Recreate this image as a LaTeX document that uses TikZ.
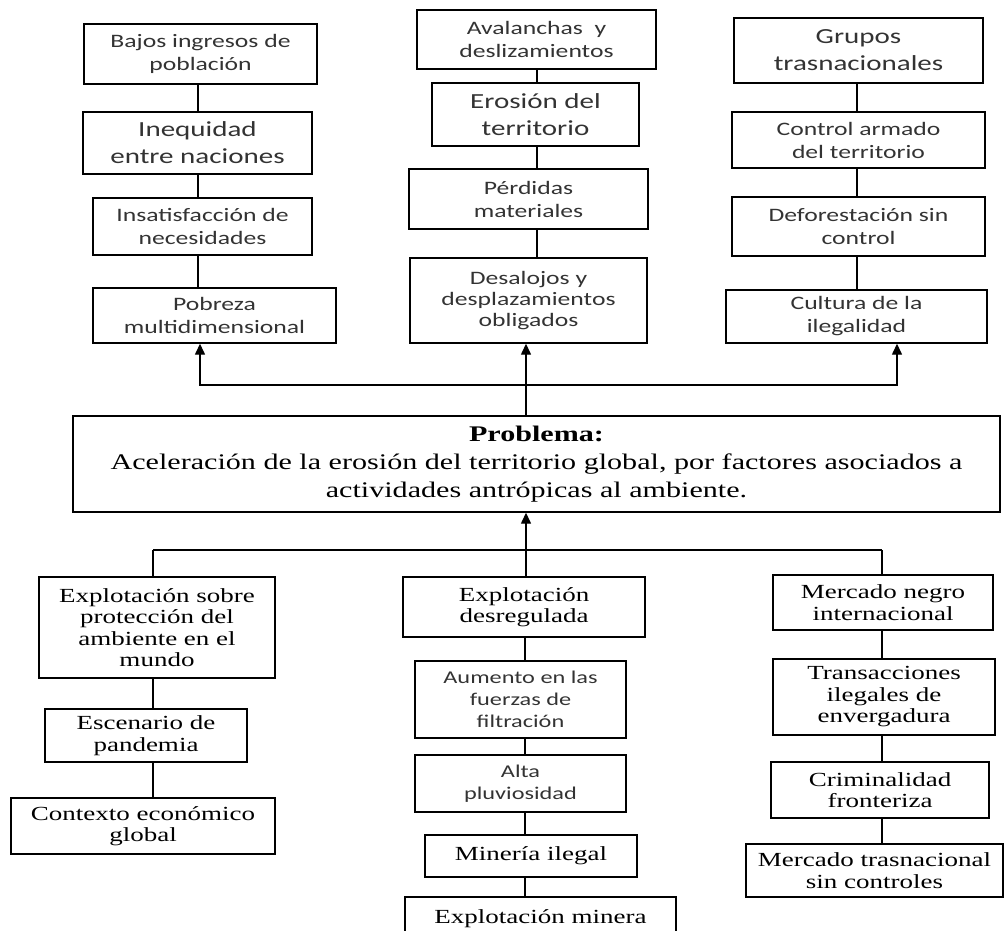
\documentclass[tikz,border=0pt]{standalone}
\usepackage{fontspec}
\setmainfont{Liberation Serif}
\newfontfamily\sansf[FakeStretch=1.35]{Carlito}
\newfontfamily\serf[FakeStretch=1.35]{Liberation Serif}
\usetikzlibrary{arrows.meta}
\newcommand\fsn{\sansf\fontsize{19}{23}\selectfont\color{black!80}}
\newcommand\fsb{\sansf\fontsize{21.5}{27}\selectfont\color{black!80}}
\newcommand\fsr{\serf\fontsize{20}{21.5}\selectfont}
\newcommand\fpr{\serf\fontsize{22.3}{28}\selectfont}
\newcommand\bx[7]{\node[boxst, minimum width={#4-#2}, minimum height={#5-#3}, font={#6}] (#1) at ({(#2+#4)/2},{(#3+#5)/2}) {#7};}
\begin{document}
\begin{tikzpicture}[x=1pt,y=-1pt,
  boxst/.style={draw, line width=1.4pt, inner sep=0pt, align=center},
  conn/.style={line width=1.4pt},
  arr/.style={line width=1.4pt, -{Triangle[length=11pt,width=10pt]}}]
\useasboundingbox (0,0) rectangle (1005,930);
\clip (0,0) rectangle (1005,930);
% top-left column
\bx{A1}{84}{24}{317}{84}{\fsn}{Bajos ingresos de\\población}
\bx{A2}{83}{112}{312}{174}{\fsb}{Inequidad\\entre naciones}
\bx{A3}{93}{198}{312}{255}{\fsn}{Insatisfacción de\\necesidades}
\bx{A4}{93}{288}{336}{343}{\fsn}{Pobreza\\multidimensional}
% top-middle column
\bx{B1}{417}{10}{656}{69}{\fsn}{Avalanchas\ \ y\\deslizamientos}
\bx{B2}{432}{83}{639}{146}{\fsb}{Erosión del\\territorio}
\bx{B3}{409}{169}{648}{229}{\fsn}{Pérdidas\\materiales}
\bx{B4}{410}{258}{647}{343}{\sansf\fontsize{19}{21}\selectfont\color{black!80}}{Desalojos y\\desplazamientos\\obligados}
% top-right column
\bx{C1}{734}{18}{983}{83}{\fsb}{Grupos\\trasnacionales}
\bx{C2}{732}{112}{985}{168}{\fsn}{Control armado\\del territorio}
\bx{C3}{732}{197}{985}{256}{\fsn}{Deforestación sin\\control}
\bx{C4}{726}{290}{987}{343}{\fsn}{Cultura de la\\ilegalidad}
% problem
\bx{P}{73}{416}{1000}{512}{\fpr}{\textbf{Problema:}\\Aceleración de la erosión del territorio global, por factores asociados a\\actividades antrópicas al ambiente.}
% bottom-left
\bx{D1}{39}{577}{275}{678}{\fsr}{Explotación sobre\\protección del\\ambiente en el\\mundo}
\bx{D2}{45}{709}{247}{762}{\fsr}{Escenario de\\pandemia}
\bx{D3}{11}{798}{275}{854}{\fsr}{Contexto económico\\global}
% bottom-middle
\bx{E1}{403}{577}{645}{637}{\fsr}{Explotación\\desregulada}
\bx{E2}{415}{661}{626}{738}{\sansf\fontsize{18}{22}\selectfont\color{black!80}}{Aumento en las\\fuerzas de\\filtración}
\bx{E3}{415}{755}{626}{812}{\sansf\fontsize{18}{22}\selectfont\color{black!80}}{Alta\\pluviosidad}
\bx{E4}{425}{835}{637}{877}{\fsr}{Minería ilegal}
\bx{E5}{405}{897}{676}{940}{\fsr}{Explotación minera}
% bottom-right
\bx{F1}{773}{575}{993}{630}{\fsr}{Mercado negro\\internacional}
\bx{F2}{773}{659}{995}{735}{\fsr}{Transacciones\\ilegales de\\envergadura}
\bx{F3}{771}{762}{989}{818}{\fsr}{Criminalidad\\fronteriza}
\bx{F4}{746}{844}{1003}{897}{\fsr}{Mercado trasnacional\\sin controles}
% guide coordinates
\coordinate (lA) at (198,0);
\coordinate (lB) at (537,0);
\coordinate (lC) at (857,0);
\coordinate (lD) at (153,0);
\coordinate (lE) at (525,0);
\coordinate (lF) at (882,0);
\coordinate (aL) at (200,385);
\coordinate (aM) at (526,385);
\coordinate (aR) at (897,385);
\coordinate (bL) at (153,550);
\coordinate (bM) at (526,550);
\coordinate (bR) at (882,550);
% chains
\draw[conn] (A1.south -| lA) -- (A2.north -| lA);
\draw[conn] (A2.south -| lA) -- (A3.north -| lA);
\draw[conn] (A3.south -| lA) -- (A4.north -| lA);
\draw[conn] (B1.south -| lB) -- (B2.north -| lB);
\draw[conn] (B2.south -| lB) -- (B3.north -| lB);
\draw[conn] (B3.south -| lB) -- (B4.north -| lB);
\draw[conn] (C1.south -| lC) -- (C2.north -| lC);
\draw[conn] (C2.south -| lC) -- (C3.north -| lC);
\draw[conn] (C3.south -| lC) -- (C4.north -| lC);
\draw[conn] (D1.south -| lD) -- (D2.north -| lD);
\draw[conn] (D2.south -| lD) -- (D3.north -| lD);
\draw[conn] (E1.south -| lE) -- (E2.north -| lE);
\draw[conn] (E2.south -| lE) -- (E3.north -| lE);
\draw[conn] (E3.south -| lE) -- (E4.north -| lE);
\draw[conn] (E4.south -| lE) -- (E5.north -| lE);
\draw[conn] (F1.south -| lF) -- (F2.north -| lF);
\draw[conn] (F2.south -| lF) -- (F3.north -| lF);
\draw[conn] (F3.south -| lF) -- (F4.north -| lF);
% upper connectors
\draw[conn] (P.north -| aM) -- (aM);
\draw[arr] (aM) -- (aL) -- (A4.south -| aL);
\draw[arr] (aM) -- (aR) -- (C4.south -| aR);
\draw[arr] (aM) -- (B4.south -| aM);
% lower connectors
\draw[arr] (bM) -- (P.south -| bM);
\draw[conn] (bL) -- (bR);
\draw[conn] (bL) -- (D1.north -| bL);
\draw[conn] (bM) -- (E1.north -| bM);
\draw[conn] (bR) -- (F1.north -| bR);
\end{tikzpicture}
\end{document}
